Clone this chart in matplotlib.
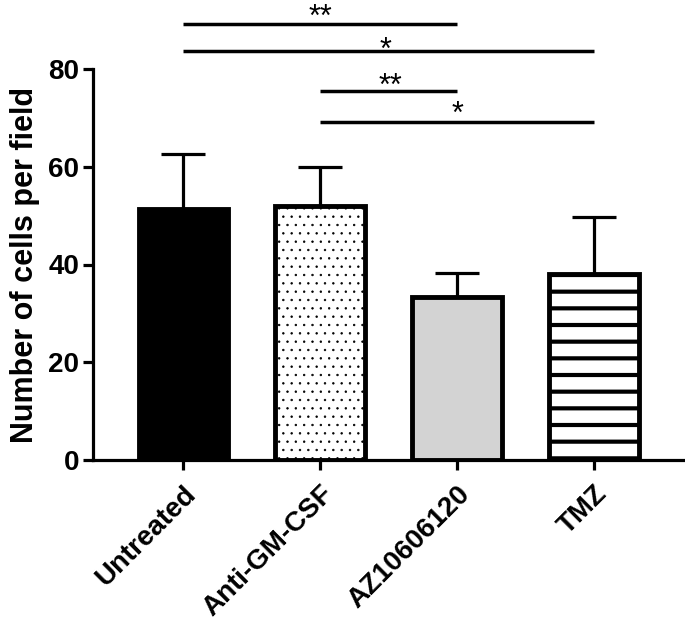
import matplotlib
matplotlib.use("Agg")
import matplotlib.pyplot as plt

categories = ["Untreated", "Anti-GM-CSF", "AZ10606120", "TMZ"]
means = [51.4, 52.0, 33.4, 38.1]
sds = [11.2, 8.0, 4.9, 11.6]
y_ticks = [0, 20, 40, 60, 80]
# significance comparisons
sig_from = [0, 0, 1, 1]
sig_to = [2, 3, 2, 3]
sig_labels = ["**", "*", "**", "*"]
sig_line_y = [89.2, 83.6, 75.4, 69.1]
sig_star_y = [92.5, 85.7, 78.3, 72.6]
sig_star_x = [1.0, 1.48, 1.51, 2.0]

faces = ["black", "white", "#d3d3d3", "white"]
hatches = [None, "..", None, "-"]
hatch_lws = [1.0, 0.5, 1.0, 3.0]

plt.rcParams['font.family'] = ['Liberation Sans', 'DejaVu Sans']
plt.rcParams['font.weight'] = 'bold'

fig = plt.figure(figsize=(6.85, 6.31), dpi=100)
ax = fig.add_axes([0.1358, 1 - 460 / 631, 0.861, 391 / 631])

x = list(range(len(categories)))
ax.errorbar(x, means, yerr=[[0] * len(sds), sds], fmt='none', ecolor='black',
            elinewidth=2.3, capsize=16, capthick=2.3, zorder=1)
for i in x:
    plt.rcParams['hatch.linewidth'] = hatch_lws[i]
    b = ax.bar(i, means[i], width=0.655, color=faces[i], edgecolor='black',
               linewidth=3.5, hatch=hatches[i], zorder=2)
    for p in b:
        if hasattr(p, 'set_hatch_linewidth'):
            p.set_hatch_linewidth(hatch_lws[i])

ax.set_xlim(-0.66, 3.65)
ax.set_ylim(0, 80)
ax.set_yticks(y_ticks)
ax.set_yticklabels([str(t) for t in y_ticks], fontsize=20, fontweight='bold')
ax.set_xticks(x)
ax.set_xticklabels(categories, rotation=45, ha='right', rotation_mode='anchor',
                   fontsize=20, fontweight='bold')
ax.tick_params(axis='both', width=2.3, length=7, direction='out')
ax.tick_params(axis='x', pad=8)
ax.tick_params(axis='y', pad=3)
for s in ['top', 'right']:
    ax.spines[s].set_visible(False)
for s in ['left', 'bottom']:
    ax.spines[s].set_linewidth(2.3)
ax.set_ylabel("Number of cells per field", fontsize=22, fontweight='bold', labelpad=6)

for a, b2, lab, ly, sy, sx in zip(sig_from, sig_to, sig_labels, sig_line_y, sig_star_y, sig_star_x):
    ax.plot([a, b2], [ly, ly], color='black', lw=2.5, clip_on=False, solid_capstyle='butt')
    ax.text(sx, sy - 3.6, lab, ha='center', va='baseline', fontsize=22,
            fontweight='normal', clip_on=False)

fig.savefig("out.png", dpi=100)
